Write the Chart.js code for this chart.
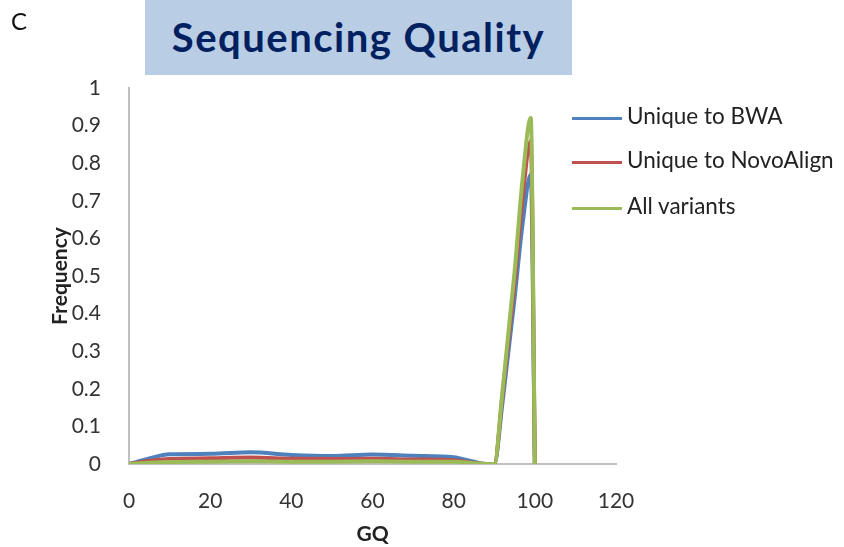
<!DOCTYPE html>
<html>
<head>
<meta charset="utf-8">
<script src="https://cdn.jsdelivr.net/npm/chart.js@4.4.1/dist/chart.umd.min.js"></script>
<style>
  body { margin: 0; background: #fff; font-family: Lato, "Noto Sans", sans-serif; }
  #wrap { position: relative; width: 844px; height: 547px; overflow: hidden; }
  #chart { position: absolute; left: 0; top: 0; }
  #panel { position: absolute; left: 11px; top: 6px; font-size: 24px; color: #111; }
  #title { position: absolute; left: 145px; top: 0; width: 427px; height: 75px; background: #b9cde5;
           color: #002060; font-weight: bold; font-size: 40px; letter-spacing: 1.5px; line-height: 75px; text-align: center; }
  #legend { position: absolute; left: 572px; top: 0; }
  .item { position: absolute; left: 0; white-space: nowrap; font-size: 22.5px; color: #222; }
  .item span { display: inline-block; width: 50px; height: 3px; vertical-align: middle; margin-right: 5px; }
</style>
</head>
<body>
<div id="wrap">
  <canvas id="chart" width="844" height="547"></canvas>
  <div id="panel">C</div>
  <div id="title">Sequencing Quality</div>
  <div id="legend"></div>
</div>
<script>
const gq = [0, 5, 10, 20, 30, 40, 50, 60, 70, 80, 85, 88, 90, 92, 95, 97, 99, 100];
const bwa = [0, 0.015, 0.026, 0.027, 0.031, 0.024, 0.021, 0.025, 0.022, 0.018, 0.006, 0, 0, 0.16, 0.44, 0.64, 0.77, 0];
const novo = [0, 0.008, 0.013, 0.015, 0.017, 0.014, 0.013, 0.014, 0.012, 0.010, 0.003, 0, 0, 0.18, 0.48, 0.71, 0.86, 0];
const allVar = [0, 0.003, 0.005, 0.006, 0.007, 0.006, 0.006, 0.007, 0.006, 0.006, 0.002, 0, 0, 0.19, 0.51, 0.76, 0.92, 0];
const seriesNames = ['Unique to BWA', 'Unique to NovoAlign', 'All variants'];
const seriesColors = ['#4f81bd', '#c0504d', '#9bbb59'];

const pts = vals => vals.map((v, i) => ({ x: gq[i], y: v }));

const mk = (i, vals, order) => ({
    label: seriesNames[i],
    data: pts(vals),
    borderColor: seriesColors[i],
    backgroundColor: seriesColors[i],
    borderWidth: 4,
    pointRadius: 0,
    cubicInterpolationMode: 'monotone',
    order: order
});

const tickFont = { family: 'Lato, "Noto Sans", sans-serif', size: 21 };
const titleFont = { family: 'Lato, "Noto Sans", sans-serif', size: 21, weight: 'bold' };

new Chart(document.getElementById('chart').getContext('2d'), {
    type: 'line',
    data: { datasets: [mk(0, bwa, 2), mk(1, novo, 1), mk(2, allVar, 0)] },
    options: {
        responsive: false,
        animation: false,
        layout: { padding: { left: 45, right: 228, top: 88, bottom: 0 } },
        plugins: { legend: { display: false }, tooltip: { enabled: false } },
        scales: {
            x: {
                type: 'linear', min: 0, max: 120,
                ticks: { stepSize: 20, padding: 17, color: '#333', font: tickFont, maxRotation: 0 },
                grid: { display: false },
                border: { color: '#bfbfbf', width: 2 },
                title: { display: true, text: 'GQ', color: '#222', font: titleFont, padding: 0 },
                afterFit: s => { s.height = 83; }
            },
            y: {
                min: 0, max: 1,
                ticks: { stepSize: 0.1, padding: 20, color: '#333', font: tickFont,
                         callback: v => String(Math.round(v * 10) / 10) },
                grid: { display: false },
                border: { color: '#bfbfbf', width: 2 },
                title: { display: true, text: 'Frequency', color: '#222', font: titleFont, padding: 3 },
                afterFit: s => { s.width = 84; }
            }
        }
    }
});

// legend
const leg = document.getElementById('legend');
const legTops = [102, 146, 192];
seriesNames.forEach((n, i) => {
    const d = document.createElement('div');
    d.className = 'item';
    d.style.top = legTops[i] + 'px';
    d.innerHTML = `<span style="background:${seriesColors[i]}"></span>${n}`;
    leg.appendChild(d);
});
</script>
</body>
</html>
